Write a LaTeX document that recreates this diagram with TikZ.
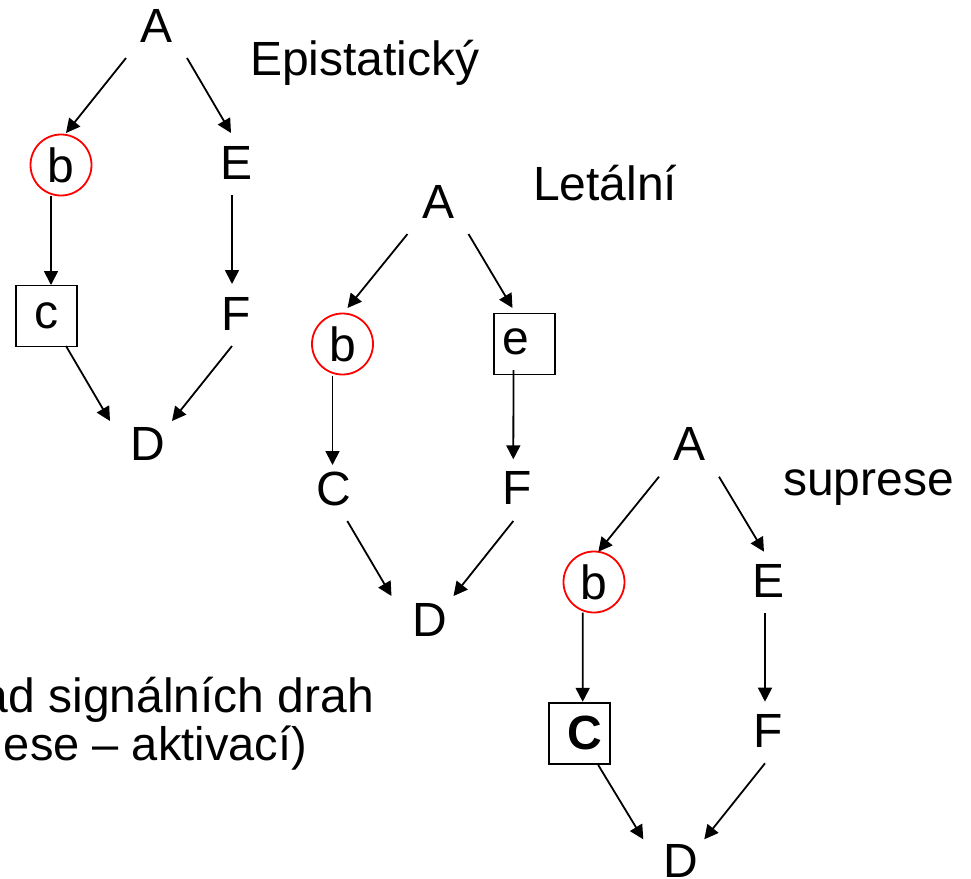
\documentclass[tikz,border=0pt]{standalone}
\usepackage{fontspec}
\setmainfont{Liberation Sans}
\usetikzlibrary{calc,arrows.meta}
\begin{document}
\begin{tikzpicture}[x=0.5pt,y=-0.5pt,
  lbl/.style={inner sep=0pt, outer sep=0pt, font=\fontsize{24}{28}\selectfont},
  gene/.style={lbl, circle, draw=red, line width=0.9pt, minimum size=30.5pt},
  boxed/.style={lbl, rectangle, draw=black, line width=0.9pt, minimum width=30.5pt, minimum height=30.5pt},
  arr/.style={-{Triangle[length=7pt,width=7pt]}, line width=0.9pt},
  ttl/.style={lbl, anchor=base west},
  txt/.style={lbl, anchor=base east}
]
\useasboundingbox (0,0) rectangle (971,879);
\clip (0,0) rectangle (971,879);
\fill[white] (0,0) rectangle (971,879);

% ---------- Epistatický ----------
\node[lbl] (aA) at (157,26) {A};
\node[gene] (ab) at (61,165) {b};
\node[lbl] (aE) at (237,163) {E};
\node[boxed] (ac) at (46.5,316) {c};
\node[lbl] (aF) at (236,314) {F};
\node[lbl] (aD) at (148,444) {D};
\node[ttl] (at) at (250,75) {Epistatický};

\draw[arr] ($(aA)+(-31,32)$) -- ($(ab)+(5,-32)$);
\draw[arr] ($(aA)+(30,32)$) -- ($(aE)+(-6,-30)$);
\draw[arr] ($(ab)+(-10,31)$) -- ($(ac)+(4.5,-31)$);
\draw[arr] ($(aE)+(-5,32)$) -- ($(aF)+(-4,-30)$);
\draw[arr] ($(ac)+(19.5,30)$) -- ($(aD)+(-38,-23)$);
\draw[arr] ($(aF)+(-4,32)$) -- ($(aD)+(24,-23)$);

% ---------- Letální ----------
\node[lbl] (bA) at (438.5,202) {A};
\node[gene] (bb) at (342.5,344) {b};
\node[boxed] (bebox) at (524.5,344) {};
\node[lbl] (be) at (515.5,342) {e};
\node[lbl] (bC) at (334,489) {C};
\node[lbl] (bF) at (517,488) {F};
\node[lbl] (bD) at (429.5,620) {D};
\node[ttl] (bt) at (533,200) {Letální};

\draw[arr] ($(bA)+(-31,32)$) -- ($(bb)+(5,-36)$);
\draw[arr] ($(bA)+(30,32)$) -- ($(bebox)+(-12,-36)$);
\draw[arr] ($(bb)+(-10,31.5)$) -- ($(bC)+(-1.5,-24)$);
\draw[arr] ($(bebox)+(-11,26)$) -- ($(bF)+(-3.7,-28.7)$);
\draw[arr] ($(bC)+(13.3,32)$) -- ($(bD)+(-38,-24)$);
\draw[arr] ($(bF)+(-3.7,33)$) -- ($(bD)+(24,-24)$);

% ---------- suprese ----------
\node[lbl] (cA) at (690,444) {A};
\node[gene] (cb) at (594,582) {b};
\node[lbl] (cE) at (769,581) {E};
\node[boxed] (cCbox) at (579.2,733.8) {};
\node[lbl,font=\fontsize{24}{28}\selectfont\bfseries] (cC) at (584.5,732.5) {C};
\node[lbl] (cF) at (768,731) {F};
\node[lbl] (cD) at (681,860.5) {D};
\node[ttl] (ct) at (783,495) {suprese};

\draw[arr] ($(cA)+(-31,32.7)$) -- ($(cb)+(4.3,-30.3)$);
\draw[arr] ($(cA)+(29,32.7)$) -- ($(cE)+(-5,-29.3)$);
\draw[arr] ($(cb)+(-11.3,30.7)$) -- ($(cCbox)+(3.5,-32)$);
\draw[arr] ($(cE)+(-4,31.7)$) -- ($(cF)+(-3,-29.3)$);
\draw[arr] ($(cCbox)+(19,31.2)$) -- ($(cD)+(-37.7,-21.2)$);
\draw[arr] ($(cF)+(-3,32.3)$) -- ($(cD)+(23.3,-21.2)$);

% ---------- clipped text ----------
\node[txt] (t1) at (374,712) {ad signálních drah};
\node[txt,font=\fontsize{23.5}{28}\selectfont] (t2) at (307,760) {ese – aktivací)};
\end{tikzpicture}
\end{document}
